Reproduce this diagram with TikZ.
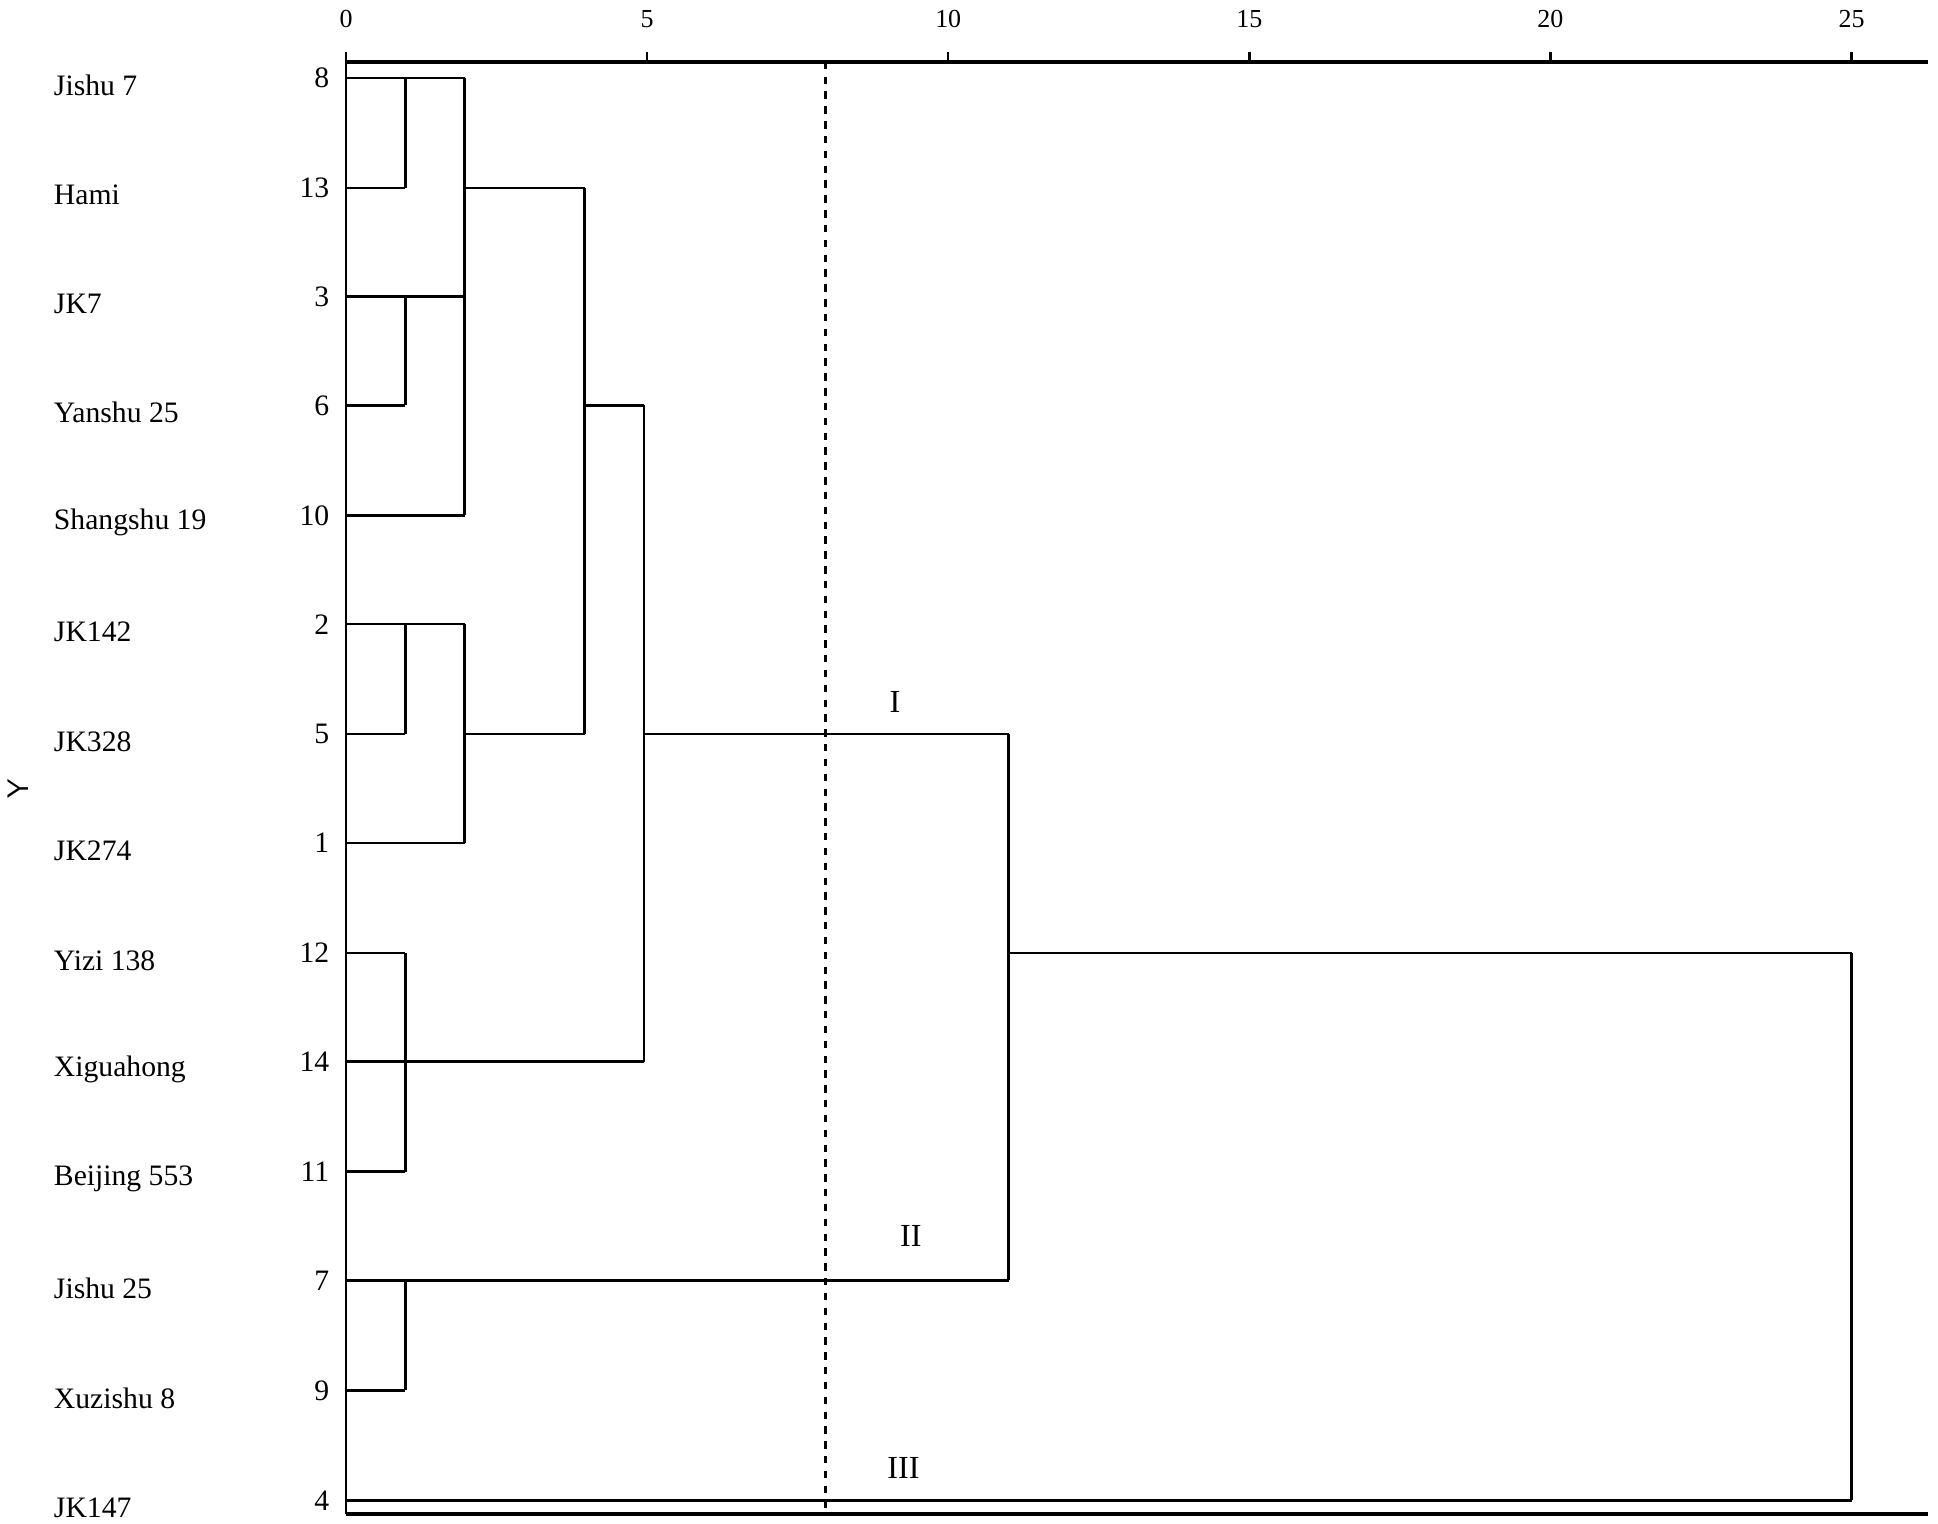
\documentclass[tikz,border=0pt]{standalone}
\usepackage{fontspec}
\setmainfont{Liberation Serif}
\begin{document}
\begin{tikzpicture}[x=0.5pt,y=-0.5pt,line width=1pt,
  nm/.style={anchor=west,font=\fontsize{12}{14}\selectfont},
  num/.style={anchor=east,font=\fontsize{12}{14}\selectfont},
  tk/.style={anchor=south,font=\fontsize{10.5}{12}\selectfont}]
\useasboundingbox (0,0) rectangle (1568,1233);
% axes
\draw[line width=1.5pt] (280,50) -- (1560,50);
\draw[line width=1.5pt] (280,1225) -- (1560,1225);
\draw (280,50) -- (280,1225);
\foreach \v in {0,5,10,15,20,25}{
  \pgfmathsetmacro\xx{280+48.72*\v}
  \draw (\xx,50) -- (\xx,42);
  \node[tk] (t\v) at (\xx,30) {\v};
}
\node[rotate=90,font=\sffamily\fontsize{12}{14}\selectfont] (ylab) at (15,638) {Y};
% labels
\foreach \n/\k/\y in {Jishu 7/8/63,Hami/13/152,JK7/3/240,Yanshu 25/6/328,Shangshu 19/10/417,JK142/2/505,JK328/5/594,JK274/1/682,Yizi 138/12/771,Xiguahong/14/859,Beijing 553/11/948,Jishu 25/7/1036,Xuzishu 8/9/1125,JK147/4/1214}{
  \node[nm] (n\k) at (36,\y+6) {\n};
  \node[num] (k\k) at (274,\y) {\k};
}
% dendrogram
\draw (280,63) -- (376,63);
\draw (328,63) -- (328,152);
\draw (280,152) -- (328,152);
\draw (376,152) -- (473,152);
\draw (376,63) -- (376,417);
\draw (280,240) -- (376,240);
\draw (328,240) -- (328,328);
\draw (280,328) -- (328,328);
\draw (280,417) -- (376,417);
\draw (473,152) -- (473,594);
\draw (473,328) -- (521,328);
\draw (521,328) -- (521,859);
\draw (280,505) -- (376,505);
\draw (328,505) -- (328,594);
\draw (280,594) -- (328,594);
\draw (376,594) -- (473,594);
\draw (376,505) -- (376,682);
\draw (280,682) -- (376,682);
\draw (280,771) -- (328,771);
\draw (328,771) -- (328,948);
\draw (280,859) -- (521,859);
\draw (280,948) -- (328,948);
\draw (521,594) -- (816,594);
\draw (816,594) -- (816,1036);
\draw (280,1036) -- (816,1036);
\draw (328,1036) -- (328,1125);
\draw (280,1125) -- (328,1125);
\draw (816,771) -- (1498,771);
\draw (1498,771) -- (1498,1214);
\draw (280,1214) -- (1498,1214);
\draw[dashed,line width=1.4pt] (668,50) -- (668,1225);
\node[font=\fontsize{13}{15}\selectfont] (c1) at (724,568) {I};
\node[font=\fontsize{13}{15}\selectfont] (c2) at (737,1000) {II};
\node[font=\fontsize{13}{15}\selectfont] (c3) at (731,1188) {III};
\end{tikzpicture}
\end{document}
